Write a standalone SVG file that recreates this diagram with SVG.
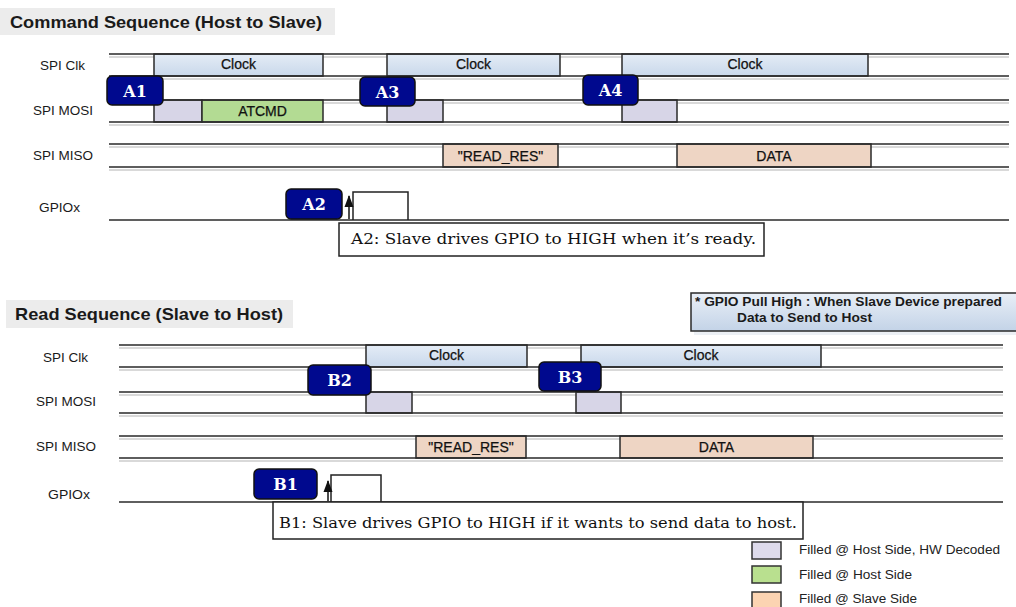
<svg xmlns="http://www.w3.org/2000/svg" width="1016" height="607" viewBox="0 0 1016 607">
<defs>
<linearGradient id="clk" x1="0" y1="0" x2="0" y2="1"><stop offset="0" stop-color="#e4ecf6"/><stop offset="1" stop-color="#c9d8eb"/></linearGradient>
<linearGradient id="note" x1="0" y1="0" x2="0" y2="1"><stop offset="0" stop-color="#e9eff7"/><stop offset="1" stop-color="#c3d3e7"/></linearGradient>
<marker id="arr" viewBox="0 0 12 10" refX="11" refY="5" markerWidth="12" markerHeight="10" markerUnits="userSpaceOnUse" orient="auto"><path d="M0,0.5 L12,5 L0,9.5 z" fill="#111"/></marker>
<style>
.bg{fill:#fff}
.title{font-family:"Liberation Sans",Arial,sans-serif;font-weight:bold;font-size:17px;fill:#1a1a1a}
.tbar{fill:#ececec}
.lbl{font-family:"Liberation Sans",Arial,sans-serif;font-size:13px;fill:#1a1a1a}
.dl{stroke:#2a2a2a;stroke-width:1.5;fill:none}
.gl{stroke:#cdcdcd;stroke-width:1.5;fill:none}
.clk{fill:url(#clk);stroke:#2a2a2a;stroke-width:1.5}
.host{fill:#d7d5e7;stroke:#2a2a2a;stroke-width:1.5}
.green{fill:#b3db93;stroke:#2a2a2a;stroke-width:1.5}
.peach{fill:#eed5c4;stroke:#2a2a2a;stroke-width:1.5}
.bt{font-family:"Liberation Sans",Arial,sans-serif;font-size:14px;fill:#111;text-anchor:middle;stroke:#111;stroke-width:0.25}
.badge{fill:#00098e;stroke:#111;stroke-width:1.5}
.bdt{font-family:"DejaVu Serif","Liberation Serif",serif;font-weight:bold;font-size:16px;fill:#fff;text-anchor:middle}
.tbox{fill:#fff;stroke:#222;stroke-width:1.5}
.ann{font-family:"DejaVu Serif","Liberation Serif",serif;font-size:15px;fill:#111}
.pulse{stroke:#222;stroke-width:1.5;fill:none}
.conn{stroke:#111;stroke-width:1.5;fill:none}
.notet{font-family:"Liberation Sans",Arial,sans-serif;font-weight:bold;font-size:12px;fill:#1a1a1a}
.legt{font-family:"Liberation Sans",Arial,sans-serif;font-size:12.5px;fill:#222}
.lbox{stroke:#333;stroke-width:1.5}
</style>
</defs>
<rect class="bg" x="0" y="0" width="1016" height="607"/>

<g id="title-command">
<rect class="tbar" x="0" y="8" width="335" height="27"/>
<text class="title" x="10" y="28" textLength="312" lengthAdjust="spacingAndGlyphs">Command Sequence (Host to Slave)</text>
</g>

<g id="labels-command">
<text class="lbl" x="40" y="70" textLength="45" lengthAdjust="spacingAndGlyphs">SPI Clk</text>
<text class="lbl" x="33" y="115" textLength="60" lengthAdjust="spacingAndGlyphs">SPI MOSI</text>
<text class="lbl" x="33" y="160" textLength="60" lengthAdjust="spacingAndGlyphs">SPI MISO</text>
<text class="lbl" x="39" y="212" textLength="41" lengthAdjust="spacingAndGlyphs">GPIOx</text>
</g>

<g id="rows-command">
<path class="gl" d="M109,57H1009M109,79H1009M109,103H1009M109,125H1009M109,147H1009M109,170H1009"/>
<rect class="clk" x="154" y="54" width="169" height="22"/>
<rect class="clk" x="387" y="54" width="173" height="22"/>
<rect class="clk" x="622" y="54" width="246" height="22"/>
<text class="bt" x="238.5" y="69">Clock</text>
<text class="bt" x="473.5" y="69">Clock</text>
<text class="bt" x="745" y="69">Clock</text>
<rect class="host" x="154" y="100" width="48" height="22"/>
<rect class="green" x="202" y="100" width="121" height="22"/>
<text class="bt" x="262.5" y="116">ATCMD</text>
<rect class="host" x="387" y="100" width="56" height="22"/>
<rect class="host" x="622" y="100" width="55" height="22"/>
<rect class="peach" x="443" y="144" width="115" height="23"/>
<text class="bt" x="500.5" y="161">"READ_RES"</text>
<rect class="peach" x="677" y="144" width="194" height="23"/>
<text class="bt" x="774" y="161">DATA</text>
<path class="dl" d="M109,54H1009M109,76H1009M109,100H1009M109,122H1009M109,144H1009M109,167H1009"/>
<path class="dl" d="M109,220H1009"/>
<path class="pulse" d="M353,220V192H408V220"/>
</g>

<g id="badge-A1"><rect class="badge" x="107" y="76" width="56" height="29" rx="5"/><text class="bdt" x="135" y="97">A1</text></g>
<g id="badge-A3"><rect class="badge" x="360" y="77" width="55" height="29" rx="5"/><text class="bdt" x="387.5" y="98">A3</text></g>
<g id="badge-A4"><rect class="badge" x="583" y="75" width="55" height="30" rx="5"/><text class="bdt" x="610.5" y="96">A4</text></g>
<g id="badge-A2"><rect class="badge" x="286" y="189" width="56" height="30" rx="5"/><text class="bdt" x="314" y="210">A2</text></g>

<g id="note-A2">
<rect class="tbox" x="339" y="223" width="425" height="33"/>
<text class="ann" x="351" y="244" textLength="405" lengthAdjust="spacingAndGlyphs">A2: Slave drives GPIO to HIGH when it’s ready.</text>
</g>

<g id="title-read">
<rect class="tbar" x="6" y="300" width="287" height="28"/>
<text class="title" x="15" y="320" textLength="268" lengthAdjust="spacingAndGlyphs">Read Sequence (Slave to Host)</text>
</g>

<g id="note-gpio">
<rect x="694" y="297" width="330" height="38" fill="#dfe6ee" opacity="0.6"/>
<rect x="691" y="293" width="330" height="38" fill="url(#note)" stroke="#2a2a2a" stroke-width="1.5"/>
<text class="notet" x="695" y="306" textLength="307" lengthAdjust="spacingAndGlyphs">* GPIO Pull High : When Slave Device prepared</text>
<text class="notet" x="737" y="322" textLength="135" lengthAdjust="spacingAndGlyphs">Data to Send to Host</text>
</g>

<g id="labels-read">
<text class="lbl" x="43" y="362" textLength="45" lengthAdjust="spacingAndGlyphs">SPI Clk</text>
<text class="lbl" x="36" y="406" textLength="60" lengthAdjust="spacingAndGlyphs">SPI MOSI</text>
<text class="lbl" x="36" y="451" textLength="60" lengthAdjust="spacingAndGlyphs">SPI MISO</text>
<text class="lbl" x="48" y="499" textLength="42" lengthAdjust="spacingAndGlyphs">GPIOx</text>
</g>

<g id="rows-read">
<path class="gl" d="M119,348H1003M119,370H1003M119,395H1003M119,416H1003M119,439H1003M119,461H1003"/>
<rect class="clk" x="366" y="345" width="161" height="22"/>
<rect class="clk" x="581" y="345" width="240" height="22"/>
<text class="bt" x="446.5" y="360">Clock</text>
<text class="bt" x="701" y="360">Clock</text>
<rect class="host" x="366" y="392" width="46" height="21"/>
<rect class="host" x="576" y="392" width="45" height="21"/>
<rect class="peach" x="416" y="436" width="110" height="22"/>
<text class="bt" x="471" y="452">"READ_RES"</text>
<rect class="peach" x="620" y="436" width="193" height="22"/>
<text class="bt" x="716.5" y="452">DATA</text>
<path class="dl" d="M119,345H1003M119,367H1003M119,392H1003M119,413H1003M119,436H1003M119,458H1003"/>
<path class="dl" d="M119,502H1003"/>
<path class="pulse" d="M331,502V475H381V502"/>
</g>

<g id="badge-B2"><rect class="badge" x="308" y="365" width="63" height="30" rx="5"/><text class="bdt" x="339.5" y="386">B2</text></g>
<g id="badge-B3"><rect class="badge" x="539" y="362" width="62" height="29" rx="5"/><text class="bdt" x="570" y="383">B3</text></g>
<g id="badge-B1"><rect class="badge" x="254" y="469" width="63" height="30" rx="5"/><text class="bdt" x="285.5" y="490">B1</text></g>

<g id="note-B1">
<rect class="tbox" x="273" y="502" width="530" height="37"/>
<text class="ann" x="279" y="528" textLength="518" lengthAdjust="spacingAndGlyphs">B1: Slave drives GPIO to HIGH if it wants to send data to host.</text>
</g>

<g id="connectors">
<path class="conn" d="M349,219V196" marker-end="url(#arr)"/>
<path class="conn" d="M328,501V481" marker-end="url(#arr)"/>
</g>

<g id="legend">
<rect class="lbox" x="752" y="542" width="29" height="17" fill="#dedbec"/>
<text class="legt" x="799" y="554" textLength="201" lengthAdjust="spacingAndGlyphs">Filled @ Host Side, HW Decoded</text>
<rect class="lbox" x="752" y="566" width="29" height="17" fill="#b9e08f"/>
<text class="legt" x="799" y="579" textLength="113" lengthAdjust="spacingAndGlyphs">Filled @ Host Side</text>
<rect class="lbox" x="752" y="592" width="29" height="17" fill="#fcd4b2"/>
<text class="legt" x="799" y="603" textLength="118" lengthAdjust="spacingAndGlyphs">Filled @ Slave Side</text>
</g>
</svg>
